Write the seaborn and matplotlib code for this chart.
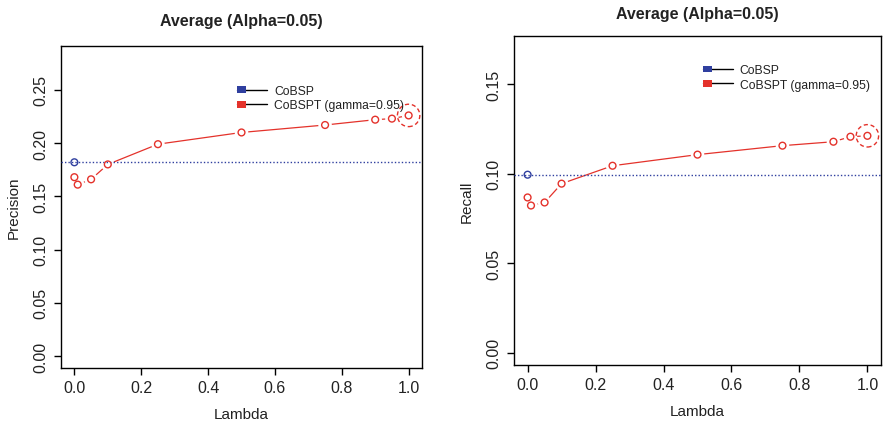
import numpy as np
import pandas as pd
import matplotlib
matplotlib.use("Agg")
import matplotlib.pyplot as plt
import seaborn as sns
from matplotlib.lines import Line2D
from matplotlib.patches import Rectangle
from matplotlib.legend_handler import HandlerBase

# ---------------- data ----------------
lambdas = [0.0, 0.01, 0.05, 0.1, 0.25, 0.5, 0.75, 0.9, 0.95, 1.0]
precision_cobspt = [0.168, 0.161, 0.166, 0.180, 0.199, 0.210, 0.217, 0.222, 0.223, 0.226]
precision_cobsp = 0.182
recall_cobspt = [0.0867, 0.0822, 0.0839, 0.0944, 0.1044, 0.1106, 0.1156, 0.1178, 0.1206, 0.1211]
recall_cobsp = 0.0994
x_ticks = [0.0, 0.2, 0.4, 0.6, 0.8, 1.0]
prec_ticks = [0.00, 0.05, 0.10, 0.15, 0.20, 0.25]
rec_ticks = [0.00, 0.05, 0.10, 0.15]
title_text = "Average (Alpha=0.05)"
label_a = "CoBSP"
label_b = "CoBSPT (gamma=0.95)"
x_label = "Lambda"
y_labels = ["Precision", "Recall"]

BLUE = "#2f3f9f"
RED = "#e4322b"
TXT = "#222222"

sns.set_style("ticks")
plt.rcParams["font.family"] = ["Liberation Sans", "DejaVu Sans"]
plt.rcParams["axes.linewidth"] = 1.0


class SquareLineHandler(HandlerBase):
    def create_artists(self, legend, orig_handle, xdescent, ydescent,
                       width, height, fontsize, trans):
        y = height / 2 - ydescent
        x0 = -xdescent
        sw, sh = height * 1.1, height * 0.8
        line = Line2D([x0, x0 + width], [y, y], color="black", lw=1.0,
                      transform=trans)
        rect = Rectangle((x0, y - sh / 2), sw, sh,
                         facecolor=orig_handle.get_color(), edgecolor="none",
                         transform=trans)
        return [line, rect]


fig = plt.figure(figsize=(8.85, 4.27), dpi=100)
W, H = 885, 427
ax1 = fig.add_axes([61 / W, (H - 369) / H, (422 - 61) / W, (369 - 47) / H])
ax2 = fig.add_axes([514 / W, (H - 366) / H, (881 - 514) / W, (366 - 37) / H])


def draw(ax, vals, base, yticks, ylim, ylabel, leg_anchor, title_pad):
    df = pd.DataFrame({"lambda": lambdas, "value": vals})
    sns.lineplot(data=df, x="lambda", y="value", ax=ax, color=RED, lw=0.9,
                 zorder=2)
    # white masks give the R "type='b'" gaps around points
    sns.scatterplot(data=df, x="lambda", y="value", ax=ax, s=95,
                    color="white", edgecolor="none", linewidth=0, zorder=3)
    ax.axhline(base, color=BLUE, lw=1.0, ls=(0, (1, 1.5)), zorder=4)
    sns.scatterplot(data=df, x="lambda", y="value", ax=ax, s=24,
                    facecolor="none", edgecolor=RED, linewidth=1.0, zorder=5)
    last = df.iloc[[-1]]
    ax.scatter(last["lambda"], last["value"], s=260, facecolors="none",
               edgecolors=RED, linewidths=1.0, linestyles=(0, (3, 2)),
               zorder=5)
    bdf = pd.DataFrame({"lambda": [lambdas[0]], "value": [base]})
    sns.scatterplot(data=bdf, x="lambda", y="value", ax=ax, s=24,
                    facecolor="none", edgecolor=BLUE, linewidth=1.0, zorder=6)

    ax.set_xlim(-0.04, 1.04)
    ax.set_ylim(*ylim)
    ax.set_xticks(x_ticks)
    ax.set_xticklabels([f"{t:.1f}" for t in x_ticks])
    ax.set_yticks(yticks)
    ax.set_yticklabels([f"{t:.2f}" for t in yticks], rotation=90, va="center")
    ax.tick_params(axis="both", length=5, width=1.0, labelsize=11.5,
                   colors="black", labelcolor=TXT, pad=4)
    ax.set_xlabel(x_label, fontsize=11, labelpad=8, color=TXT)
    ax.set_ylabel(ylabel, fontsize=11, labelpad=9, color=TXT)
    for s in ax.spines.values():
        s.set_visible(True)
        s.set_color("black")
    ax.set_title(title_text, fontsize=11.5, fontweight="bold", pad=title_pad,
                 color=TXT)

    handles = [Line2D([], [], color=BLUE), Line2D([], [], color=RED)]
    ax.legend(handles, [label_a, label_b], handler_map={Line2D: SquareLineHandler()},
              loc="upper left", bbox_to_anchor=leg_anchor, frameon=False,
              fontsize=8.7, handlelength=2.5, handletextpad=0.55,
              labelspacing=0.2, borderaxespad=0, borderpad=0,
              labelcolor=TXT)


draw(ax1, precision_cobspt, precision_cobsp, prec_ticks, (-0.0112, 0.2912),
     y_labels[0], (0.488, 0.879), 15)
draw(ax2, recall_cobspt, recall_cobsp, rec_ticks, (-0.0068, 0.1768),
     y_labels[1], (0.515, 0.914), 13)

fig.savefig("out.png", dpi=100)
